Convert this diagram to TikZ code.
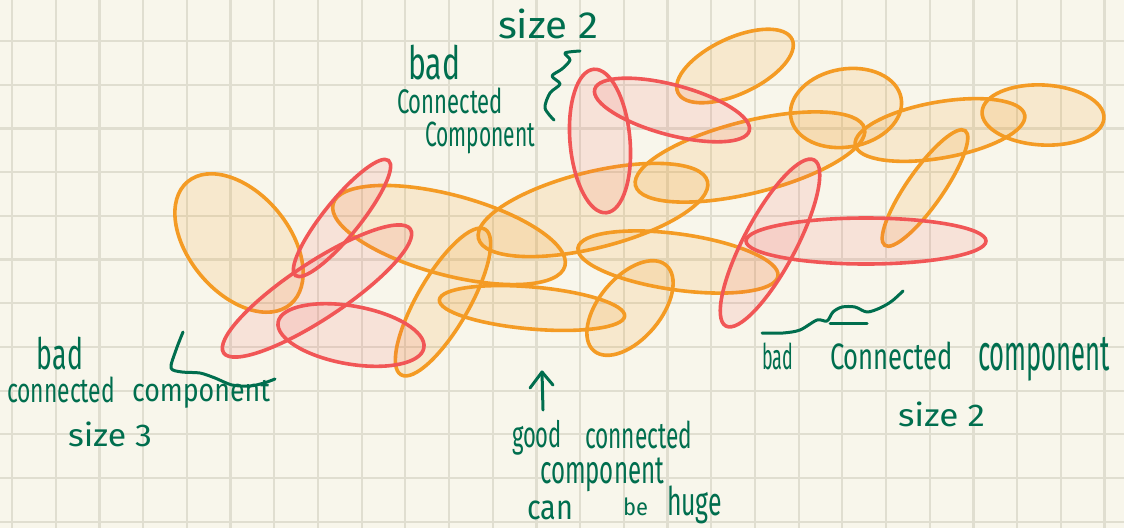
\documentclass[tikz,border=0pt]{standalone}
\usepackage{fontspec}
\usepackage{graphicx}
\newfontfamily\handfont{Fira Sans}
\definecolor{paper}{RGB}{248,246,235}
\definecolor{gridline}{RGB}{224,222,208}
\definecolor{goodset}{RGB}{244,155,36}
\definecolor{badset}{RGB}{241,86,86}
\definecolor{ink}{RGB}{0,110,78}
% a handwritten word squeezed into a given ink box (width, height in pt)
\newcommand\handword[3]{\resizebox*{#1pt}{#2pt}{\handfont #3}}
% an ellipse: style, centre, semi-axes, tilt
\newcommand\vset[5]{\path[#1, rotate around={#5:(#2)}] (#2) ellipse [x radius=#3pt, y radius=#4pt];}
\tikzset{
  good/.style={draw=goodset, line width=3.6pt, fill=goodset, fill opacity=0.15},
  bad/.style={draw=badset, line width=3.6pt, fill=badset, fill opacity=0.12},
  word/.style={inner sep=0pt, outer sep=0pt, anchor=north west, text=ink},
  pen/.style={draw=ink, line width=3pt, line cap=round, line join=round},
}
\begin{document}
\begin{tikzpicture}[x=1pt,y=-1pt]
% squared paper
\fill[paper] (0,0) rectangle (1124,528);
\useasboundingbox (0,0) rectangle (1124,528);
\foreach \i in {0,...,25} \draw[gridline, line width=2.2pt] ({12+43.7*\i},0) -- ({12+43.7*\i},528);
\foreach \j in {-1,...,11} \draw[gridline, line width=2.2pt] (0,{41+43.7*\j}) -- (1124,{41+43.7*\j});

% good sets
\vset{good}{239,243}{80}{50}{-50}
\vset{good}{449,235}{120}{40}{-15}
\vset{good}{593,210}{118}{38}{14}
\vset{good}{750,157}{118}{36}{14}
\vset{good}{735,66}{63}{28}{25}
\vset{good}{846,108}{56}{39}{10}
\vset{good}{940,130}{86}{28}{10}
\vset{good}{1043,115}{61}{30}{-3}
\vset{good}{925,188}{70}{18}{55}
\vset{good}{678,262}{101}{28}{-8}
\vset{good}{532,308}{93}{21}{-5}
\vset{good}{630,308}{56}{31}{50}
\vset{good}{443,302}{84}{26}{60}

% bad sets
\vset{bad}{342,218}{74}{18}{51}
\vset{bad}{317,291}{112}{28}{33.5}
\vset{bad}{351,335}{74}{29}{-10}
\vset{bad}{672,110}{80}{25}{-15}
\vset{bad}{600,141}{72}{30}{95}
\vset{bad}{866,241}{120}{23}{0}
\vset{bad}{770,243}{94}{26}{62}

% left note
\node[word] (lbad)  at (37,337)  {\handword{46}{33}{bad}};
\node[word] (lconn) at (7,377)   {\handword{108}{26}{connected}};
\node[word] (lcomp) at (132,380) {\handword{138}{28}{component}};
\node[word] (lsize) at (68,422)  {\handword{84}{25}{size 3}};
\draw[pen] plot[smooth] coordinates {(183,332) (176,350) (171,368) (182,372) (200,373) (215,378) (232,385) (250,386) (264,383) (275,379)};

% top note
\node[word] (tsize) at (498,9)   {\handword{100}{30}{size 2}};
\node[word] (tbad)  at (408,45)  {\handword{52}{35}{bad}};
\node[word] (tconn) at (397,88)  {\handword{106}{26}{Connected}};
\node[word] (tcomp) at (425,122) {\handword{110}{32}{Component}};
\draw[pen] plot[smooth] coordinates {(580,51) (565,53) (570,60) (562,69) (552,76) (560,84) (550,93) (545,108) (554,120)};

% bottom note
\coordinate (tipB) at (542,372);
\coordinate (footB) at (543,410);
\draw[pen] (footB) -- (tipB);
\draw[pen] (530,388) -- (tipB) -- (553,385);
\node[word] (ggood) at (512,420) {\handword{50}{35}{good}};
\node[word] (gconn) at (585,421) {\handword{107}{28}{connected}};
\node[word] (gcomp) at (540,458) {\handword{124}{34}{component}};
\node[word] (gcan)  at (527,501) {\handword{46}{19}{can}};
\node[word] (gbe)   at (623,498) {\handword{25}{18}{be}};
\node[word] (ghuge) at (667,486) {\handword{55}{38}{huge}};

% right note
\draw[pen] plot[smooth] coordinates {(762,333) (783,333) (800,330) (817,320) (827,321) (833,312) (842,307) (855,307) (867,312) (880,308) (892,301) (903,291)};
\draw[pen] (830,323) -- (867,323);
\node[word] (rbad)  at (762,343) {\handword{31}{27}{bad}};
\node[word] (rconn) at (830,342) {\handword{123}{28}{Connected}};
\node[word] (rcomp) at (978,337) {\handword{132}{44}{component}};
\node[word] (rsize) at (898,402) {\handword{87}{25}{size 2}};
\end{tikzpicture}
\end{document}
